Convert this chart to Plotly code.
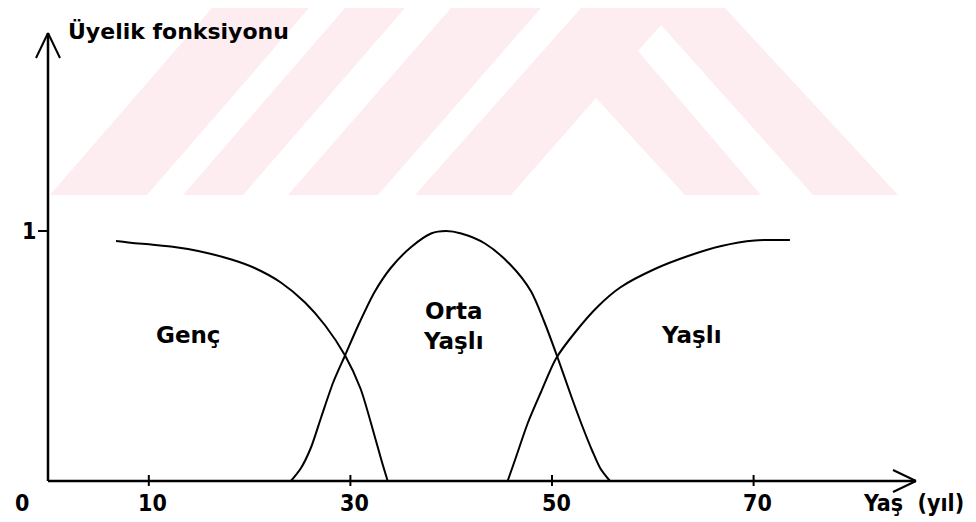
import plotly.graph_objects as go

# ---- data ----
genc_x = [6.75, 8.2, 10.4, 12.7, 14.9, 18.2, 20.5, 23.1, 25.5, 27.5, 29.5, 31.0, 32.4, 33.1, 33.7]
genc_y = [0.96, 0.953, 0.945, 0.935, 0.92, 0.886, 0.852, 0.794, 0.714, 0.622, 0.50, 0.37, 0.18, 0.08, 0.0]

orta_x = [24.1, 25.1, 26.1, 27.1, 28.3, 29.5, 30.75, 32.4, 34.0, 36.0, 38.0, 39.5, 41.0, 43.35, 45.9, 47.9, 49.2, 50.5, 51.9, 53.0, 54.0, 54.8, 55.75]
orta_y = [0.0, 0.052, 0.135, 0.255, 0.395, 0.505, 0.62, 0.756, 0.852, 0.935, 0.99, 1.0, 0.99, 0.95, 0.864, 0.76, 0.64, 0.50, 0.34, 0.22, 0.12, 0.05, 0.0]

yasli_x = [45.6, 46.4, 47.6, 48.9, 50.4, 52.3, 54.6, 56.8, 60.2, 63.5, 66.8, 70.1, 73.6]
yasli_y = [0.0, 0.092, 0.232, 0.355, 0.49, 0.595, 0.70, 0.775, 0.848, 0.90, 0.94, 0.962, 0.964]

x_ticks = [10, 30, 50, 70]
x_tick_labels = ["10", "30", "50", "70"]
y_ticks = [1]
y_tick_labels = ["1"]

set_names = ["Genç", "Orta<br>Yaşlı", "Yaşlı"]
set_label_x = [13.9, 40.2, 63.8]
set_label_y = [0.585, 0.62, 0.585]

y_title = "Üyelik fonksiyonu"
x_title = "Yaş  (yıl)"

# ---- geometry of the canvas ----
W, H = 976, 522
X0_PX, X_SCALE = 40, 10.08      # pixel of x=0, pixels per year
Y0_PX, Y_SCALE = 473, 250       # pixel of y=0, pixels per unit
x_range = [(0 - X0_PX) / X_SCALE, (W - X0_PX) / X_SCALE]
y_range = [(Y0_PX - H) / Y_SCALE, (Y0_PX - 0) / Y_SCALE]

x_end = (908 - X0_PX) / X_SCALE
y_end = (Y0_PX - 25) / Y_SCALE

LABEL_FONT = "DejaVu Sans Condensed, Liberation Sans Narrow, Arial Narrow, sans-serif"
TEXT_FONT = "DejaVu Sans, Verdana, sans-serif"

fig = go.Figure()
for xs, ys in [(genc_x, genc_y), (orta_x, orta_y), (yasli_x, yasli_y)]:
    fig.add_trace(go.Scatter(x=xs, y=ys, mode="lines",
                             line=dict(color="black", width=2, shape="spline", smoothing=0.8),
                             hoverinfo="skip", showlegend=False))

shapes = []
# watermark (pixel polygons converted to paper coords)
def px_path(points):
    s = ""
    for i, (px, py) in enumerate(points):
        s += ("M" if i == 0 else "L") + f"{px / W:.4f},{1 - py / H:.4f} "
    return s + "Z"

wm = [
    [(204, 0), (301, 0), (139, 187), (42, 187)],
    [(337, 0), (397, 0), (235, 187), (175, 187)],
    [(443, 0), (533, 0), (370, 187), (280, 187)],
    [(407, 187), (573, 0), (717, 0), (890, 187), (805, 187), (653, 17), (630, 43),
     (753, 187), (677, 187), (588, 90), (503, 187)],
]
for poly in wm:
    shapes.append(dict(type="path", xref="paper", yref="paper", path=px_path(poly),
                       fillcolor="#fdedf0", line=dict(width=0), layer="below"))

axis_line = dict(color="black", width=2.5)
# axes
shapes.append(dict(type="line", x0=0, y0=0, x1=x_end, y1=0, line=axis_line))
shapes.append(dict(type="line", x0=0, y0=0, x1=0, y1=y_end, line=axis_line))
# arrow heads
ax_w = 23 / X_SCALE
ax_h = 11 / Y_SCALE
shapes.append(dict(type="line", x0=x_end - ax_w, y0=ax_h, x1=x_end, y1=0, line=dict(color="black", width=2)))
shapes.append(dict(type="line", x0=x_end - ax_w, y0=-ax_h, x1=x_end, y1=0, line=dict(color="black", width=2)))
ay_w = 12 / X_SCALE
ay_h = 25 / Y_SCALE
shapes.append(dict(type="line", x0=-ay_w, y0=y_end - ay_h, x1=0, y1=y_end, line=dict(color="black", width=2)))
shapes.append(dict(type="line", x0=ay_w, y0=y_end - ay_h, x1=0, y1=y_end, line=dict(color="black", width=2)))
# ticks
for t in x_ticks:
    shapes.append(dict(type="line", x0=t, y0=-5 / Y_SCALE, x1=t, y1=6 / Y_SCALE, line=dict(color="black", width=2)))
for t in y_ticks:
    shapes.append(dict(type="line", x0=-10 / X_SCALE, y0=t, x1=0, y1=t, line=dict(color="black", width=2)))

ann = []
label_y = (Y0_PX - 495) / Y_SCALE
for t, lab in zip(x_ticks, x_tick_labels):
    ann.append(dict(x=t + 0.4, y=label_y, text=f"<b>{lab}</b>", showarrow=False,
                    font=dict(family=LABEL_FONT, size=23, color="black"), xanchor="center", yanchor="middle"))
ann.append(dict(x=(14 - X0_PX) / X_SCALE, y=label_y, text="<b>0</b>", showarrow=False,
                font=dict(family=LABEL_FONT, size=23, color="black"), xanchor="center", yanchor="middle"))
for t, lab in zip(y_ticks, y_tick_labels):
    ann.append(dict(x=(21 - X0_PX) / X_SCALE, y=t, text=f"<b>{lab}</b>", showarrow=False,
                    font=dict(family=LABEL_FONT, size=23, color="black"), xanchor="center", yanchor="middle"))
ann.append(dict(x=(853 - X0_PX) / X_SCALE, y=label_y, text=f"<b>{x_title}</b>", showarrow=False,
                font=dict(family=LABEL_FONT, size=23, color="black"), xanchor="left", yanchor="middle"))
ann.append(dict(x=(58 - X0_PX) / X_SCALE, y=(Y0_PX - 23) / Y_SCALE, text=f"<b>{y_title}</b>", showarrow=False,
                font=dict(family=TEXT_FONT, size=22, color="black"), xanchor="left", yanchor="middle"))
for nm, lx, ly in zip(set_names, set_label_x, set_label_y):
    ann.append(dict(x=lx, y=ly, text=f"<b>{nm}</b>", showarrow=False,
                    font=dict(family=TEXT_FONT, size=23, color="black"), xanchor="center", yanchor="middle"))

fig.update_layout(
    width=W, height=H,
    margin=dict(l=0, r=0, t=0, b=0),
    paper_bgcolor="white", plot_bgcolor="rgba(0,0,0,0)",
    xaxis=dict(range=x_range, visible=False, fixedrange=True),
    yaxis=dict(range=y_range, visible=False, fixedrange=True),
    shapes=shapes, annotations=ann, showlegend=False,
)
fig.write_html("out.html")
